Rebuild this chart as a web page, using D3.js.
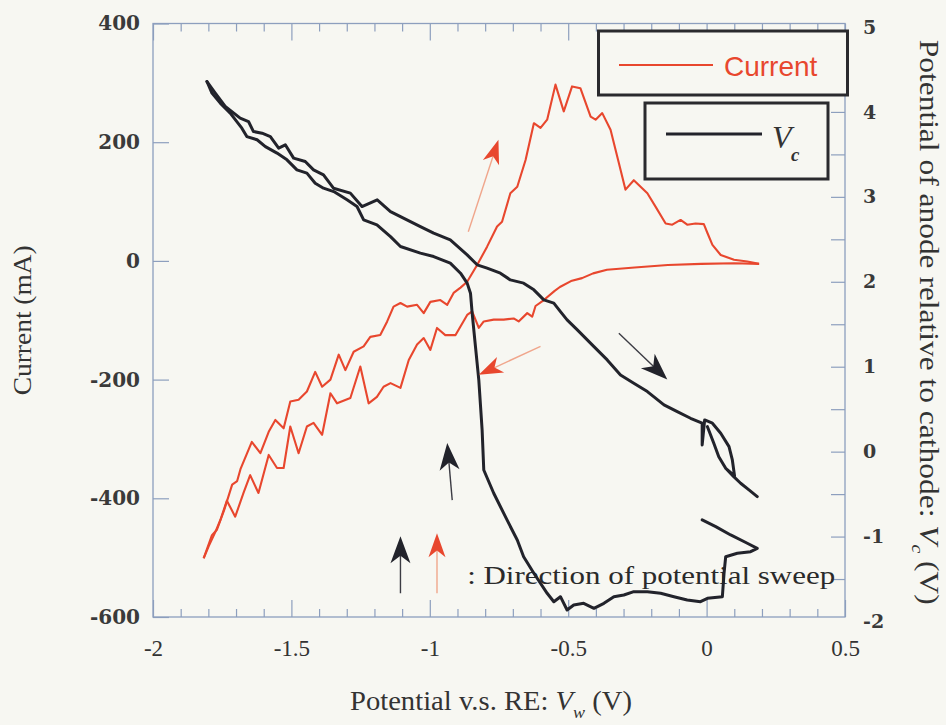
<!DOCTYPE html>
<html><head><meta charset="utf-8">
<script src="https://cdn.jsdelivr.net/npm/d3@7"></script>
<style>html,body{margin:0;padding:0;background:#f7f7f2;} svg{display:block;}</style>
</head><body>
<svg id="c" width="946" height="725"></svg>
<script>
// ---------- data ----------
const xTicks = [-2, -1.5, -1, -0.5, 0, 0.5];
const currentTicks = [-600, -400, -200, 0, 200, 400];
const vcTicks = [-2, -1, 0, 1, 2, 3, 4, 5];

// Current (mA) vs Vw (V): cathodic sweep (0.19 V -> -1.82 V)
const currentCathodic = [[0.19,-5],[0.10,-4],[-0.02,-5],[-0.14,-7],[-0.26,-11],[-0.36,-15],[-0.41,-21],[-0.45,-29],[-0.49,-34],[-0.53,-44],[-0.55,-51],[-0.588,-66],[-0.618,-76],[-0.63,-94],[-0.648,-88],[-0.679,-102],[-0.697,-97],[-0.733,-99],[-0.769,-99],[-0.805,-102],[-0.823,-113],[-0.847,-85],[-0.865,-91],[-0.907,-125],[-0.944,-125],[-0.974,-113],[-0.998,-150],[-1.022,-130],[-1.046,-141],[-1.076,-167],[-1.106,-214],[-1.142,-206],[-1.167,-212],[-1.191,-229],[-1.221,-240],[-1.251,-178],[-1.287,-231],[-1.335,-240],[-1.359,-223],[-1.389,-293],[-1.420,-273],[-1.444,-279],[-1.474,-324],[-1.504,-279],[-1.528,-349],[-1.552,-349],[-1.582,-327],[-1.619,-391],[-1.649,-361],[-1.673,-391],[-1.703,-431],[-1.733,-404],[-1.757,-437],[-1.775,-457],[-1.799,-481],[-1.817,-501]];
// anodic sweep (-1.82 V -> 0.19 V)
const currentAnodic = [[-1.817,-501],[-1.787,-462],[-1.769,-453],[-1.743,-420],[-1.714,-377],[-1.696,-371],[-1.684,-351],[-1.643,-305],[-1.612,-324],[-1.582,-288],[-1.558,-268],[-1.528,-282],[-1.504,-237],[-1.474,-234],[-1.444,-220],[-1.414,-187],[-1.389,-212],[-1.359,-200],[-1.329,-158],[-1.305,-184],[-1.275,-153],[-1.239,-144],[-1.215,-128],[-1.179,-125],[-1.154,-102],[-1.131,-77],[-1.106,-71],[-1.082,-77],[-1.046,-74],[-1.022,-88],[-0.998,-69],[-0.962,-66],[-0.937,-74],[-0.914,-54],[-0.889,-45],[-0.865,-35],[-0.829,-7],[-0.793,24],[-0.757,58],[-0.739,66],[-0.709,114],[-0.684,125],[-0.654,170],[-0.624,232],[-0.600,224],[-0.576,238],[-0.546,297],[-0.516,252],[-0.486,294],[-0.456,291],[-0.419,243],[-0.401,238],[-0.377,249],[-0.347,221],[-0.317,165],[-0.293,120],[-0.263,136],[-0.214,114],[-0.184,91],[-0.148,63],[-0.124,61],[-0.094,69],[-0.070,61],[-0.040,63],[-0.010,62],[0.003,47],[0.021,27],[0.051,10],[0.099,2],[0.147,-1],[0.189,-5]];

// Vc (V) vs Vw (V): cathodic sweep
const vcCathodic = [[-0.016,-0.804],[0.033,-0.883],[0.087,-0.981],[0.147,-1.079],[0.183,-1.138],[0.159,-1.178],[0.111,-1.197],[0.069,-1.237],[0.063,-1.432],[0.057,-1.708],[0.003,-1.727],[-0.022,-1.767],[-0.070,-1.747],[-0.118,-1.708],[-0.166,-1.668],[-0.214,-1.649],[-0.263,-1.649],[-0.299,-1.688],[-0.335,-1.708],[-0.371,-1.786],[-0.407,-1.845],[-0.444,-1.786],[-0.480,-1.806],[-0.504,-1.865],[-0.528,-1.708],[-0.552,-1.767],[-0.576,-1.668],[-0.624,-1.432],[-0.661,-1.237],[-0.684,-1.040],[-0.721,-0.804],[-0.769,-0.490],[-0.805,-0.216],[-0.811,0.256],[-0.823,0.845],[-0.835,1.237],[-0.847,1.630],[-0.853,1.866],[-0.865,1.984],[-0.889,2.101],[-0.926,2.219],[-0.986,2.297],[-1.034,2.337],[-1.106,2.415],[-1.142,2.532],[-1.191,2.670],[-1.239,2.729],[-1.263,2.886],[-1.299,2.965],[-1.347,3.062],[-1.384,3.102],[-1.414,3.161],[-1.444,3.279],[-1.480,3.318],[-1.516,3.436],[-1.552,3.515],[-1.594,3.592],[-1.624,3.672],[-1.661,3.710],[-1.679,3.809],[-1.721,3.986],[-1.757,4.104],[-1.787,4.221],[-1.805,4.358]];
// anodic sweep
const vcAnodic = [[-1.805,4.358],[-1.775,4.221],[-1.739,4.064],[-1.685,3.927],[-1.655,3.887],[-1.637,3.769],[-1.606,3.750],[-1.576,3.710],[-1.546,3.574],[-1.522,3.613],[-1.492,3.456],[-1.450,3.416],[-1.420,3.318],[-1.384,3.259],[-1.348,3.102],[-1.287,3.044],[-1.245,2.886],[-1.190,2.965],[-1.142,2.827],[-1.106,2.768],[-1.034,2.650],[-0.986,2.572],[-0.926,2.493],[-0.865,2.317],[-0.829,2.200],[-0.793,2.160],[-0.745,2.101],[-0.709,2.022],[-0.661,1.984],[-0.624,1.905],[-0.588,1.787],[-0.552,1.748],[-0.528,1.649],[-0.504,1.551],[-0.467,1.433],[-0.407,1.237],[-0.359,1.080],[-0.311,0.903],[-0.263,0.806],[-0.214,0.707],[-0.154,0.550],[-0.106,0.471],[-0.058,0.393],[-0.016,0.335],[-0.016,0.079],[-0.007,0.373],[0.021,0.335],[0.051,0.217],[0.081,0.059],[0.093,-0.098],[0.101,-0.286],[0.069,-0.196],[0.044,-0.059],[0.026,0.099],[0.003,0.294],[0.026,0.099],[0.044,-0.059],[0.069,-0.196],[0.098,-0.295],[0.123,-0.372],[0.153,-0.451],[0.183,-0.530]];

// sweep-direction arrows, in (Vw, Current) units
const sweepArrowFrom = [[-0.861,49],[-0.600,-144],[-0.317,-122],[-0.919,-403],[-1.106,-560],[-0.974,-560]];
const sweepArrowTo   = [[-0.752,204],[-0.823,-192],[-0.142,-200],[-0.937,-307],[-1.106,-464],[-0.974,-459]];
const sweepArrowSeries = ['current','current','vc','vc','vc','current'];

// ---------- drawing ----------
const W = 946, H = 725;
const bg = '#f7f7f2', spine = '#8d9fbe', red = '#e8472e', black = '#22232b';
const svg = d3.select('#c');
svg.append('rect').attr('width', W).attr('height', H).attr('fill', bg);

const x = d3.scaleLinear().domain([-2, 0.5]).range([153, 845]);
const yL = d3.scaleLinear().domain([-600, 400]).range([617, 23.5]);
const yR = d3.scaleLinear().domain([-2, 5]).range([621.5, 27]);

function styleTicks(g) {
  g.select('.domain').remove();
  g.selectAll('.tick line').attr('stroke', spine).attr('stroke-width', 1.2);
}
const minorX = d3.range(-19, 5).map(i => i / 10).filter(v => Math.abs(v * 2 - Math.round(v * 2)) > 1e-6);

// bottom
svg.append('g').attr('transform', `translate(0,${yL(-600)})`)
  .call(d3.axisBottom(x).tickValues(minorX).tickSize(-8).tickFormat('')).call(styleTicks);
const gb = svg.append('g').attr('transform', `translate(0,${yL(-600)})`)
  .call(d3.axisBottom(x).tickValues(xTicks).tickSize(-17).tickPadding(23).tickFormat(d => String(d))).call(styleTicks);
gb.selectAll('text').attr('font-family', '"Liberation Serif", serif').attr('font-size', 23).attr('fill', '#333');
// top
svg.append('g').attr('transform', `translate(0,${yL(400)})`)
  .call(d3.axisTop(x).tickValues(minorX).tickSize(-8).tickFormat('')).call(styleTicks);
svg.append('g').attr('transform', `translate(0,${yL(400)})`)
  .call(d3.axisTop(x).tickValues(xTicks).tickSize(-17).tickFormat('')).call(styleTicks);
// left
const gl = svg.append('g').attr('transform', `translate(${x(-2)},0)`)
  .call(d3.axisLeft(yL).tickValues(currentTicks).tickSize(-16).tickPadding(13).tickFormat(d => String(d))).call(styleTicks);
gl.selectAll('text').attr('font-family', '"DejaVu Serif", serif').attr('font-weight', 'bold').attr('font-size', 20).attr('fill', '#3a3a3a');
// right
svg.append('g').attr('transform', `translate(${x(0.5)},0)`)
  .call(d3.axisRight(yR).tickValues(d3.range(-3, 10).map(i => i / 2)).tickSize(-14).tickFormat('')).call(styleTicks);
const gr = svg.append('g').attr('transform', `translate(${x(0.5)},0)`)
  .call(d3.axisRight(yR).tickValues(vcTicks).tickSize(0).tickPadding(18).tickFormat(d => String(d))).call(g => g.select('.domain').remove());
gr.selectAll('text').attr('font-family', '"DejaVu Serif", serif').attr('font-weight', 'bold').attr('font-size', 19).attr('fill', '#3a3a3a');

// frame
svg.append('rect').attr('x', x(-2)).attr('y', yL(400)).attr('width', x(0.5) - x(-2)).attr('height', yL(-600) - yL(400))
  .attr('fill', 'none').attr('stroke', spine).attr('stroke-width', 1.3);

// axis titles
svg.append('text').attr('transform', `translate(31,${(yL(400) + yL(-600)) / 2}) rotate(-90)`)
  .attr('text-anchor', 'middle').attr('font-family', '"Liberation Serif", serif').attr('font-size', 26).attr('fill', '#333')
  .attr('textLength', 150).attr('lengthAdjust', 'spacingAndGlyphs')
  .text('Current (mA)');
const bt = svg.append('text').attr('x', 491).attr('y', 710).attr('text-anchor', 'middle')
  .attr('font-family', '"Liberation Serif", serif').attr('font-size', 27).attr('fill', '#333')
  .attr('textLength', 282).attr('lengthAdjust', 'spacingAndGlyphs');
bt.append('tspan').text('Potential v.s. RE: ');
bt.append('tspan').attr('font-style', 'italic').text('V');
bt.append('tspan').attr('font-style', 'italic').attr('font-size', 17).attr('dy', 8).text('w');
bt.append('tspan').attr('dy', -8).text(' (V)');
const rt = svg.append('text').attr('transform', `translate(920,${(yL(400) + yL(-600)) / 2 + 2}) rotate(90)`)
  .attr('text-anchor', 'middle').attr('font-family', '"Liberation Serif", serif').attr('font-size', 27).attr('fill', '#333')
  .attr('textLength', 565).attr('lengthAdjust', 'spacingAndGlyphs');
rt.append('tspan').text('Potential of anode relative to cathode: ');
rt.append('tspan').attr('font-style', 'italic').text('V');
rt.append('tspan').attr('font-style', 'italic').attr('font-size', 17).attr('dy', 8).text('c');
rt.append('tspan').attr('dy', -8).text(' (V)');

// annotation text
svg.append('text').attr('x', x(-0.865)).attr('y', yL(-545))
  .attr('font-family', '"Liberation Serif", serif').attr('font-size', 25).attr('fill', '#2a2a2a')
  .attr('textLength', 368).attr('lengthAdjust', 'spacingAndGlyphs')
  .text(': Direction of potential sweep');

// curves
const lineL = d3.line().x(d => x(d[0])).y(d => yL(d[1]));
const lineR = d3.line().x(d => x(d[0])).y(d => yR(d[1]));
[currentCathodic, currentAnodic].forEach(s => svg.append('path').attr('d', lineL(s)).attr('fill', 'none')
  .attr('stroke', red).attr('stroke-width', 2.1).attr('stroke-linejoin', 'round'));
[vcCathodic, vcAnodic].forEach(s => svg.append('path').attr('d', lineR(s)).attr('fill', 'none')
  .attr('stroke', black).attr('stroke-width', 3).attr('stroke-linejoin', 'round').attr('stroke-linecap', 'round'));

// arrows
sweepArrowFrom.forEach((f, i) => {
  const isRed = sweepArrowSeries[i] === 'current';
  const x1 = x(f[0]), y1 = yL(f[1]), x2 = x(sweepArrowTo[i][0]), y2 = yL(sweepArrowTo[i][1]);
  const ang = Math.atan2(y2 - y1, x2 - x1);
  const L = isRed ? 24 : 27, Wd = isRed ? 17 : 20;
  const ex = x2 - Math.cos(ang) * L * 0.7, ey = y2 - Math.sin(ang) * L * 0.7;
  svg.append('line').attr('x1', x1).attr('y1', y1).attr('x2', ex).attr('y2', ey)
    .attr('stroke', isRed ? '#f0a68c' : '#3c3c44').attr('stroke-width', 1.4);
  svg.append('path').attr('d', `M0,0L${-L},${-Wd / 2}L${-L * 0.72},0L${-L},${Wd / 2}Z`)
    .attr('transform', `translate(${x2},${y2}) rotate(${ang * 180 / Math.PI})`)
    .attr('fill', isRed ? red : black);
});

// legend
const lg = svg.append('g');
lg.append('rect').attr('x', 598.5).attr('y', 31).attr('width', 249).attr('height', 64)
  .attr('fill', bg).attr('stroke', '#2a2a2e').attr('stroke-width', 3);
lg.append('line').attr('x1', 619).attr('x2', 713).attr('y1', 65).attr('y2', 65).attr('stroke', red).attr('stroke-width', 2);
lg.append('text').attr('x', 724).attr('y', 76).attr('font-family', '"Liberation Sans", Arial, sans-serif')
  .attr('font-size', 28).attr('fill', red).text('Current');
lg.append('rect').attr('x', 645).attr('y', 103).attr('width', 183).attr('height', 76)
  .attr('fill', bg).attr('stroke', '#2a2a2e').attr('stroke-width', 3);
lg.append('line').attr('x1', 666).attr('x2', 762).attr('y1', 134).attr('y2', 134).attr('stroke', black).attr('stroke-width', 3);
lg.append('text').attr('x', 772).attr('y', 148).attr('font-family', '"Liberation Serif", serif')
  .attr('font-style', 'italic').attr('font-size', 32).attr('fill', '#333').text('V');
lg.append('text').attr('x', 791).attr('y', 161).attr('font-family', '"Liberation Serif", serif')
  .attr('font-style', 'italic').attr('font-weight', 'bold').attr('font-size', 19).attr('fill', '#333').text('c');
</script>
</body></html>
